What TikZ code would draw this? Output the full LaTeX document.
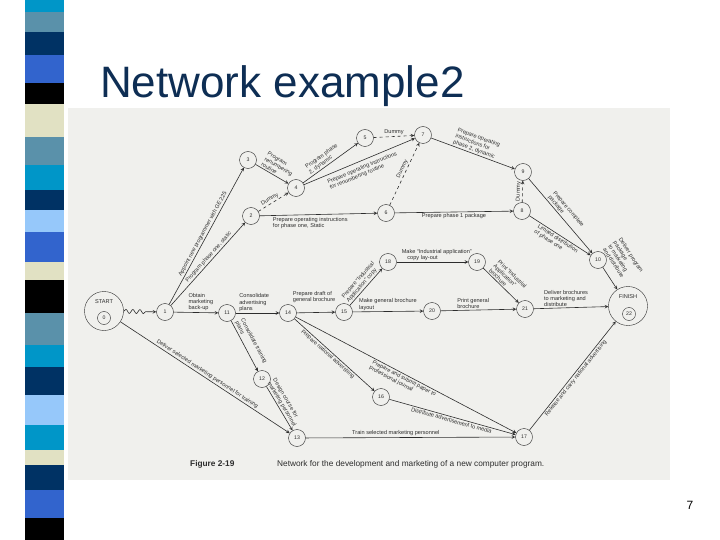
\documentclass[tikz,border=0pt]{standalone}
\usepackage{fontspec}
\setmainfont{Liberation Sans}
\usepackage{xcolor}
\usetikzlibrary{positioning}
\usetikzlibrary{decorations.pathmorphing}

\definecolor{titleblue}{RGB}{14,46,84}
\definecolor{scangray}{RGB}{240,240,237}
\definecolor{ink}{RGB}{45,45,45}
\definecolor{stripecyan}{RGB}{0,150,200}
\definecolor{stripesteel}{RGB}{90,145,170}
\definecolor{stripenavy}{RGB}{0,50,100}
\definecolor{stripeblue}{RGB}{50,100,205}
\definecolor{stripelight}{RGB}{150,200,250}
\definecolor{stripebeige}{RGB}{225,225,195}

\begin{document}
\begin{tikzpicture}[
      x=1pt, y=-1pt,
      >=stealth,
      event/.style={draw=ink, circle, minimum size=17pt, inner sep=0pt,
                    text=ink, font=\fontsize{5.2}{6}\selectfont},
      terminal/.style={draw=ink, circle, minimum size=39pt, inner sep=0pt},
      act/.style={->, draw=ink, line width=0.6pt},
      dummy/.style={act, dashed},
      txt/.style={font=\fontsize{5.6}{6.3}\selectfont, text=ink, inner sep=1.2pt}
    ]
    \useasboundingbox (0,0) rectangle (720,540);

    % Stripes at the left edge of the slide
    \foreach \ya/\yb/\col in {0/12/stripecyan, 12/32/stripesteel, 32/55/stripenavy,
        55/83/stripeblue, 83/104/black, 104/137/stripebeige, 137/165/stripesteel,
        165/190/stripecyan, 190/210/stripenavy, 210/232/stripelight, 232/262/stripeblue,
        262/280/stripebeige, 280/313/black, 313/345/stripesteel, 345/367/stripecyan,
        367/395/stripenavy, 395/425/stripelight, 425/450/stripecyan, 450/465/stripebeige,
        465/490/stripenavy, 490/518/stripeblue, 518/540/black}
      \fill[\col] (25,\ya) rectangle (64,\yb);

    % Title and scanned figure area
    \node[anchor=base west, inner sep=0pt, text=titleblue,
          font=\fontsize{44}{50}\selectfont] (title) at (100,98) {Network example2};
    \fill[scangray] (68,108) rectangle (670,480);

    % Start and finish events
    \node[terminal] (start) at (104,311) {};
    \node[txt] (startlbl) at (104,302) {START};
    \node[event, minimum size=13pt] (n0) at (104,318) {0};
    \node[terminal] (finish) at (628,306) {};
    \node[txt] (finishlbl) at (628,297) {FINISH};
    \node[event, minimum size=13pt] (n22) at (629,314) {22};

    % Program development events
    \node[event] (n1) at (165,312) {1};
    \node[event] (n2) at (251,216) {2};
    \node[event] (n3) at (248,160) {3};
    \node[event] (n4) at (296,188) {4};
    \node[event] (n5) at (365,138) {5};
    \node[event] (n6) at (386,213) {6};
    \node[event] (n7) at (423,135) {7};
    \node[event] (n8) at (522,211) {8};
    \node[event] (n9) at (523,172) {9};
    \node[event] (n10) at (598,260) {10};

    % Marketing events
    \node[event] (n11) at (227,313) {11};
    \node[event] (n12) at (262,379) {12};
    \node[event] (n13) at (297,438) {13};
    \node[event] (n14) at (288,313) {14};
    \node[event] (n15) at (344,312) {15};
    \node[event] (n16) at (381,397) {16};
    \node[event] (n17) at (524,437) {17};
    \node[event] (n18) at (388,262) {18};
    \node[event] (n19) at (477,262) {19};
    \node[event] (n20) at (432,311) {20};
    \node[event] (n21) at (525,309) {21};

    % Program activities
    \draw[act, decorate, decoration={snake, amplitude=2pt, segment length=7pt,
          post length=9pt}] (start) -- (n1);
    \draw[act] (n1) -- node[txt, sloped, above, pos=0.5]
          {Appoint new programmer with GE 225} (n3);
    \draw[act] (n1) -- node[txt, sloped, above, pos=0.55]
          {Program phase one, static} (n2);
    \draw[act] (n3) -- node[txt, sloped, above, pos=0.55, align=left]
          {Program\\renumbering\\routine} (n4);
    \draw[dummy] (n2) -- node[txt, sloped, above, pos=0.45] {Dummy} (n4);
    \draw[act] (n2) -- node[txt, below right, pos=0.1, align=left]
          {Prepare operating instructions\\for phase one, Static} (n6);
    \draw[act] (n4) -- node[txt, sloped, above, pos=0.45, align=left]
          {Program phase\\2, dynamic} (n5);
    \draw[act] (n4) -- node[txt, sloped, below=3pt, pos=0.5, align=left]
          {Prepare operating instructions\\for renumbering routine} (n7);
    \draw[dummy] (n5) -- node[txt, above] {Dummy} (n7);
    \draw[dummy] (n6) -- node[txt, sloped, above, pos=0.55] {Dummy} (n7);
    \draw[act] (n7) -- node[txt, sloped, above, align=left]
          {Prepare operating\\instructions for\\phase 2, dynamic} (n9);
    \draw[act] (n6) -- node[txt, below] {Prepare phase 1 package} (n8);
    \draw[dummy] (n8) -- node[txt, sloped, above] {Dummy} (n9);
    \draw[act] (n9) -- node[txt, sloped, above, align=left]
          {Prepare complete\\package} (n10);
    \draw[act] (n8) -- node[txt, sloped, below, align=left]
          {Limited distribution\\of phase one} (n10);
    \draw[act] (n10) -- node[txt, sloped, above=8pt, pos=0.2, align=left]
          {Deliver program\\package\\to marketing\\and distribute} (finish);

    % Marketing activities
    \draw[act] (n1) -- node[txt, above right, pos=0.3, align=left]
          {Obtain\\marketing\\back-up} (n11);
    \draw[act] (n11) -- node[txt, above right, pos=0.05, align=left]
          {Consolidate\\advertising\\plans} (n14);
    \draw[act] (n11) -- node[txt, sloped, above, align=left]
          {Consolidate training\\plans} (n12);
    \draw[act] (n14) -- node[txt, above=8pt, pos=0.45, align=left]
          {Prepare draft of\\general brochure} (n15);
    \draw[act] (n14) -- node[txt, sloped, below, pos=0.45]
          {Prepare national advertising} (n16);
    \draw[act] (n14) -- node[txt, sloped, below, align=left]
          {Prepare and submit paper to\\professional journal} (n17);
    \draw[act] (n15) -- node[txt, sloped, above, align=left]
          {Prepare ``Industrial\\Application'' copy} (n18);
    \draw[act] (n15) -- node[txt, above right, pos=0.07, align=left]
          {Make general brochure\\layout} (n20);
    \draw[act] (n18) -- node[txt, above right, pos=0.05, align=left]
          {Make ``Industrial application''\\\quad copy lay-out} (n19);
    \draw[act] (n19) -- node[txt, sloped, above, align=left]
          {Print ``Industrial\\Application''\\brochure} (n21);
    \draw[act] (n20) -- node[txt, above right, pos=0.2, align=left]
          {Print general\\brochure} (n21);
    \draw[act] (n21) -- node[txt, above right, pos=0.12, align=left]
          {Deliver brochures\\to marketing and\\distribute} (finish);
    \draw[act] (start) -- node[txt, sloped, above]
          {Deliver selected marketing personnel for training} (n13);
    \draw[act] (n12) -- node[txt, sloped, above, pos=0.45, align=left]
          {Design course for\\marketing personnel} (n13);
    \draw[act] (n16) -- node[txt, sloped, below]
          {Distribute advertisement to media} (n17);
    \draw[act] (n13) -- node[txt, above, pos=0.43]
          {Train selected marketing personnel} (n17);
    \draw[act] (n17) -- node[txt, sloped, below]
          {Release and carry national advertising} (finish);

    % Caption and page number
    \node[anchor=base west, inner sep=0pt, text=ink, font=\fontsize{8.3}{10}\selectfont\bfseries]
          (figno) at (190,466) {Figure 2-19};
    \node[anchor=base west, inner sep=0pt, text=ink, font=\fontsize{8.3}{10}\selectfont]
          (figcap) at (277,466) {Network for the development and marketing of a new computer program.};
    \node[font=\fontsize{12}{14}\selectfont] (pagenum) at (690,505) {7};
  \end{tikzpicture}
\end{document}
